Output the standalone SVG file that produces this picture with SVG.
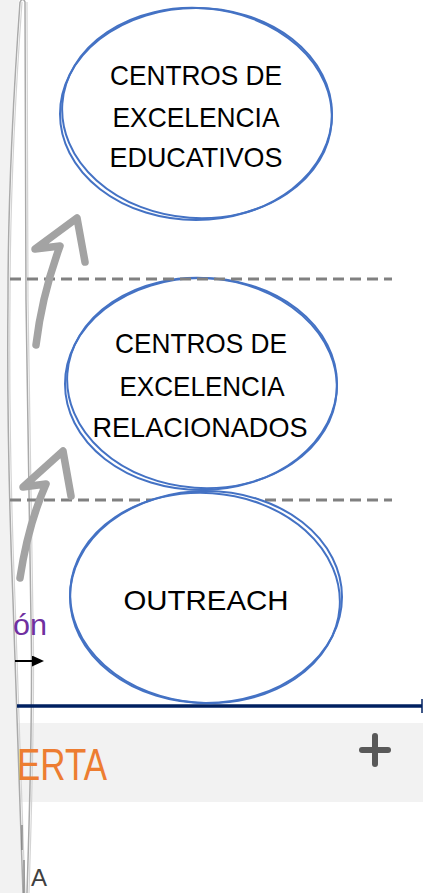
<svg xmlns="http://www.w3.org/2000/svg" width="423" height="893" viewBox="0 0 423 893">
<defs>
<style>
.lbl{font-family:"Liberation Sans",Arial,sans-serif;font-size:28.5px;fill:#000;text-anchor:middle}
.ring{fill:none;stroke:#4472c4;stroke-width:2}
.dash{stroke:#808080;stroke-width:3;stroke-dasharray:11 6;fill:none}
.garrow{fill:none;stroke:#a3a3a3;stroke-width:7.5;stroke-linecap:round;stroke-linejoin:round}
.edge{fill:none;stroke:#aaaaaa;stroke-width:1.5}
.edge2{fill:none;stroke:#d4d4d4;stroke-width:1.2}
</style>
<marker id="tri" markerWidth="13" markerHeight="11" refX="0" refY="5.5" orient="auto" markerUnits="userSpaceOnUse">
<path d="M0,0 L12,5.5 L0,11 Z" fill="#000"/>
</marker>
</defs>
<rect width="423" height="893" fill="#fff"/>
<path d="M0,0 L19,0 C12,100 8,200 8,300 C7,400 9,500 13,600 C15,660 18,760 23,893 L0,893 Z" fill="#f2f2f2"/>
<rect x="17" y="723" width="406" height="79" fill="#f2f2f2"/>
<g id="strip">
<path class="edge" d="M20,2 C13,100 8,200 8,300 C7,400 9,500 13,600 C15,660 18,760 23,893"/>
<path class="edge2" d="M22,2 C15,100 10,200 10,300 C9,400 11,500 15,600 C17,660 20,760 25,893"/>
<path class="edge" d="M20,2 Q23,-3 25,2 C26,100 25,200 26,300 C28,400 30,500 31,620 C33,700 30,800 27,893"/>
<path class="edge2" d="M27,2 C28,100 27,200 28,300 C30,400 32,500 33,620 C35,700 32,800 29,893"/>
<path d="M22,825 L22,850 M24,860 L24,893" stroke="#777" stroke-width="1.2"/>
</g>
<g id="timeline">
<line x1="17" y1="706" x2="422" y2="706" stroke="#002060" stroke-width="3.5"/>
<line x1="422" y1="699" x2="422" y2="713" stroke="#002060" stroke-width="1.5"/>
</g>
<g id="separators">
<line class="dash" x1="10" y1="500" x2="392" y2="500"/>
</g>
<g id="n3">
<ellipse cx="206" cy="597" rx="136" ry="106" fill="#fff"/>
<ellipse class="ring" cx="206" cy="597" rx="136" ry="106"/>
<ellipse class="ring" cx="205" cy="598" rx="135" ry="105" transform="rotate(4 205 598)"/>
<text class="lbl" x="206" y="610" textLength="165" lengthAdjust="spacingAndGlyphs">OUTREACH</text>
</g>
<g id="n2">
<ellipse cx="201" cy="384" rx="136" ry="106" fill="#fff"/>
<ellipse class="ring" cx="201" cy="384" rx="136" ry="106"/>
<ellipse class="ring" cx="202" cy="383" rx="135" ry="105" transform="rotate(4 202 383)"/>
<text class="lbl" x="201" y="353" textLength="172" lengthAdjust="spacingAndGlyphs">CENTROS DE</text>
<text class="lbl" x="202" y="396" textLength="165" lengthAdjust="spacingAndGlyphs">EXCELENCIA</text>
<text class="lbl" x="200" y="437" textLength="215" lengthAdjust="spacingAndGlyphs">RELACIONADOS</text>
</g>
<g id="sep-top">
<line class="dash" x1="10" y1="279" x2="392" y2="279"/>
</g>
<g id="n1">
<ellipse cx="196" cy="114" rx="136" ry="106" fill="#fff"/>
<ellipse class="ring" cx="196" cy="114" rx="136" ry="106"/>
<ellipse class="ring" cx="197" cy="113" rx="135" ry="105" transform="rotate(4 197 113)"/>
<text class="lbl" x="196" y="85" textLength="172" lengthAdjust="spacingAndGlyphs">CENTROS DE</text>
<text class="lbl" x="196" y="127" textLength="167" lengthAdjust="spacingAndGlyphs">EXCELENCIA</text>
<text class="lbl" x="196" y="167" textLength="173" lengthAdjust="spacingAndGlyphs">EDUCATIVOS</text>
</g>
<g id="connectors">
<path class="garrow" d="M36,345 Q42,295 60,246 L35,249 L77,218 L85,262"/>
<path class="garrow" d="M20,578 Q28,525 46,484 L23,487 L63,451 L71,496"/>
<line x1="15" y1="661" x2="32" y2="661" stroke="#000" stroke-width="2" marker-end="url(#tri)"/>
</g>
<text x="13" y="635" font-family="'Liberation Sans',Arial,sans-serif" font-size="29" fill="#7030a0" textLength="34" lengthAdjust="spacingAndGlyphs">ón</text>
<text x="17" y="780" font-family="'Liberation Sans',Arial,sans-serif" font-size="44" fill="#ed7d31" textLength="90" lengthAdjust="spacingAndGlyphs">ERTA</text>
<text x="31" y="886" font-family="'Liberation Sans',Arial,sans-serif" font-size="24" fill="#404040">A</text>
<g id="plus" stroke="#595959" stroke-width="6" stroke-linecap="round">
<line x1="362" y1="750" x2="388" y2="750"/>
<line x1="375" y1="736" x2="375" y2="764"/>
</g>
</svg>
